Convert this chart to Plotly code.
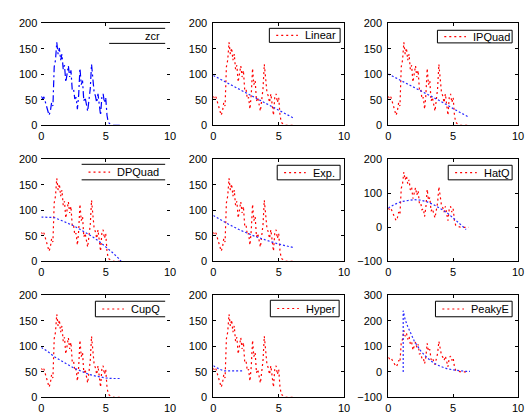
import plotly.graph_objects as go

# ---------------- data ----------------
t = [0.0, 0.1, 0.2, 0.3, 0.4, 0.5, 0.6, 0.7, 0.8, 0.9,
     1.0, 1.1, 1.2, 1.3, 1.4, 1.5, 1.6, 1.7, 1.8, 1.9,
     2.0, 2.1, 2.2, 2.3, 2.4, 2.5, 2.6, 2.7, 2.8, 2.9,
     3.0, 3.1, 3.2, 3.3, 3.4, 3.5, 3.6, 3.7, 3.8, 3.9,
     4.0, 4.1, 4.2, 4.3, 4.4, 4.5, 4.6, 4.7, 4.8, 4.9,
     5.0, 5.1, 5.2, 5.3, 5.4, 5.5, 5.6, 5.7, 5.8, 5.9,
     6.0, 6.1, 6.2]
signal = [57, 52, 56, 48, 38, 30, 20, 28, 45, 38,
          115, 128, 163, 140, 152, 128, 140, 110, 118, 85,
          100, 117, 95, 108, 70, 72, 52, 55, 32, 60,
          112, 80, 88, 48, 55, 40, 28, 50, 72, 120,
          90, 65, 58, 45, 62, 35, 20, 55, 62, 45,
          55, 20, 6, 4, 2, 1, 0, 0, 0, 0,
          0, 0, 0]

lin_x = [0, 6.1]
lin_y = [98, 15]
ipq_x = [0, 1, 2, 3, 4, 5, 6.15]
ipq_y = [101, 88, 75, 62, 48, 33, 17]
dpq_x = [0, 0.5, 1, 1.5, 2, 2.5, 3, 3.5, 4, 4.5, 5, 5.5, 6, 6.2]
dpq_y = [87, 87, 86, 81, 76, 70, 63, 56, 48, 39, 29, 18, 6, 0]
exp_x = [0, 1, 2, 3, 4, 5, 6.15]
exp_y = [90, 75, 62, 51, 42, 34, 27]
hat_x = [0, 0.5, 1, 1.5, 2, 2.5, 3, 3.5, 4, 4.5, 5, 5.5, 6]
hat_y = [57, 68, 76, 80, 82, 80, 75, 67, 56, 44, 28, 12, -6]
cup_x = [0, 0.5, 1, 1.5, 2, 2.5, 3, 3.5, 4, 4.5, 5, 5.5, 6.2]
cup_y = [98, 90, 80, 72, 65, 58, 52, 47, 43, 40, 38, 37, 37]
hyp_x = [0, 0.3, 0.5, 0.8, 2.2]
hyp_y = [62, 57, 55, 52, 52]
pky_x = [1.15, 1.15, 1.3, 1.5, 2, 2.5, 3, 3.5, 4, 4.5, 5, 5.5, 6, 6.3]
pky_y = [0, 240, 205, 178, 121, 82, 55, 35, 22, 13, 8, 4, 2, 2]

names = ["zcr", "Linear", "IPQuad", "DPQuad", "Exp.", "HatQ", "CupQ", "Hyper", "PeakyE"]
fits = [(t, signal), (lin_x, lin_y), (ipq_x, ipq_y), (dpq_x, dpq_y), (exp_x, exp_y),
        (hat_x, hat_y), (cup_x, cup_y), (hyp_x, hyp_y), (pky_x, pky_y)]
y_ranges = [[0, 200]] * 5 + [[-100, 200]] + [[0, 200]] * 2 + [[-100, 300]]
y_ticks = [[0, 50, 100, 150, 200]] * 5 + [[-100, 0, 100, 200]] + \
          [[0, 50, 100, 150, 200]] * 2 + [[-100, 0, 100, 200, 300]]
x_ticks = [0, 5, 10]

# ---------------- layout helpers ----------------
W, H = 525, 416
def px(x):
    return x / W
def py(y):
    return 1 - y / H

col_px = [(39, 170), (214, 347), (392, 524)]
row_px = [(18, 123), (158, 263), (298, 403)]
# legend boxes (left, right, top, bottom) in pixels
leg_px = [(108, 165, 23, 38.5), (271, 343, 23, 37.5), (442, 518, 25, 38),
          (80, 165, 163, 179), (279, 343, 164, 179), (453, 518, 164, 179),
          (94, 165, 304, 320), (272, 342, 303, 320), (440, 518, 304, 320)]

FONT = "Liberation Sans, Arial, Helvetica, sans-serif"
RED_DASH = "2px,3px"
fig = go.Figure()
layout = dict(width=W, height=H, autosize=False,
              margin=dict(l=0, r=0, t=0, b=0, pad=0),
              paper_bgcolor="white", plot_bgcolor="white",
              showlegend=False, font=dict(family=FONT, size=11, color="black"))
shapes = []
annotations = []

for i in range(9):
    r, c = divmod(i, 3)
    k = "" if i == 0 else str(i + 1)
    xa, ya = "x" + k, "y" + k
    fx, fy = fits[i]
    if i > 0:
        fig.add_trace(go.Scatter(x=t, y=signal, mode="lines", xaxis=xa, yaxis=ya,
                                 line=dict(color="#ff0000", width=1.2, dash=RED_DASH),
                                 name="data", hoverinfo="skip"))
        fig.add_trace(go.Scatter(x=fx, y=fy, mode="lines", xaxis=xa, yaxis=ya,
                                 line=dict(color="#2a2aff", width=1.2, dash="2px,2px"),
                                 name=names[i], hoverinfo="skip"))
    else:
        fig.add_trace(go.Scatter(x=fx, y=fy, mode="lines", xaxis=xa, yaxis=ya,
                                 line=dict(color="#0000ff", width=1.2, dash="7px,3px,2px,3px"),
                                 name=names[i], hoverinfo="skip"))
    x0, x1 = col_px[c]
    y0, y1 = row_px[r]
    layout["xaxis" + k] = dict(domain=[px(x0), px(x1)], range=[0, 10], tickvals=x_ticks,
                               ticks="inside", ticklen=3, tickcolor="black",
                               showline=True, linecolor="black", linewidth=1,
                               mirror="ticks", showgrid=False, zeroline=False,
                               anchor=ya, fixedrange=True,
                               tickfont=dict(family=FONT, size=11, color="black"))
    layout["yaxis" + k] = dict(domain=[py(y1), py(y0)], range=y_ranges[i], tickvals=y_ticks[i],
                               ticks="inside", ticklen=3, tickcolor="black",
                               showline=(c != 0), linecolor="black", linewidth=1,
                               mirror="ticks", showgrid=False, zeroline=False,
                               anchor=xa, fixedrange=True, ticklabelstandoff=3,
                               tickfont=dict(family=FONT, size=11, color="black"))

    # legend box
    lx0, lx1, ly0, ly1 = leg_px[i]
    if c == 0:
        shapes.append(dict(type="line", xref="paper", yref="paper", x0=px(lx0), x1=px(lx1),
                           y0=py(ly0), y1=py(ly0), line=dict(color="black", width=1)))
        shapes.append(dict(type="line", xref="paper", yref="paper", x0=px(lx0), x1=px(lx1),
                           y0=py(ly1), y1=py(ly1), line=dict(color="black", width=1)))
        if i == 6:
            shapes.append(dict(type="line", xref="paper", yref="paper", x0=px(lx0), x1=px(lx0),
                               y0=py(ly0), y1=py(ly1), line=dict(color="black", width=1)))
    else:
        shapes.append(dict(type="rect", xref="paper", yref="paper", x0=px(lx0), x1=px(lx1),
                           y0=py(ly1), y1=py(ly0), fillcolor="white",
                           line=dict(color="black", width=1), layer="above"))
    ym = (ly0 + ly1) / 2
    if i > 0:
        shapes.append(dict(type="line", xref="paper", yref="paper", x0=px(lx0 + 7), x1=px(lx0 + 29),
                           y0=py(ym), y1=py(ym), layer="above",
                           line=dict(color="#ff0000", width=1.2, dash=RED_DASH)))
    annotations.append(dict(xref="paper", yref="paper", x=px(lx0 + 34), y=py(ym),
                            xanchor="left", yanchor="middle", text=names[i], showarrow=False,
                            font=dict(family=FONT, size=11, color="black")))

layout["shapes"] = shapes
layout["annotations"] = annotations
fig.update_layout(**layout)

fig.write_html("out.html", config={"displayModeBar": False, "staticPlot": True},
               post_script="document.body.style.margin='0';")
